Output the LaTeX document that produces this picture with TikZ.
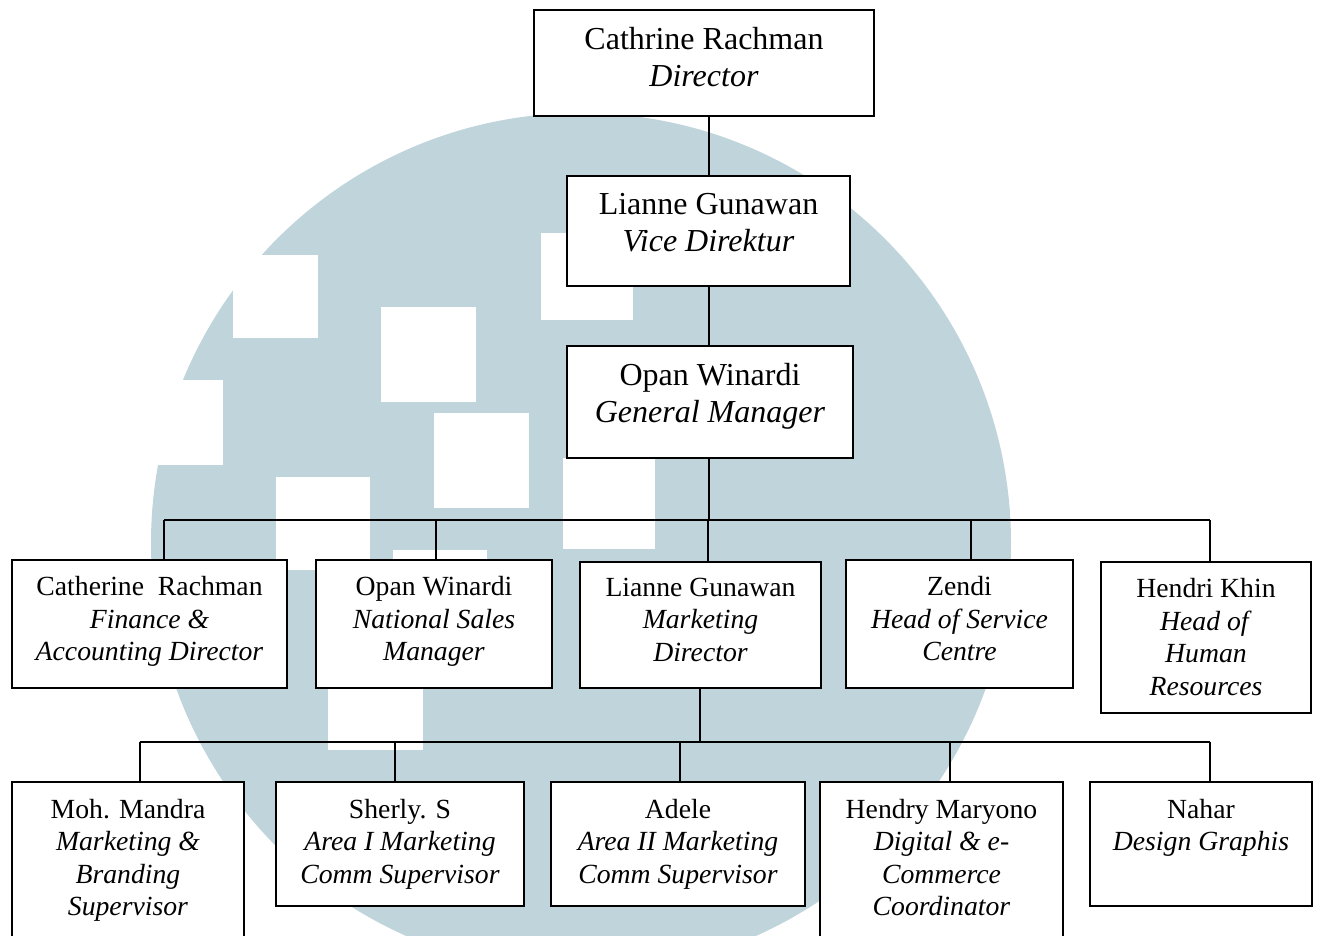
\documentclass[tikz,border=0pt]{standalone}
\usepackage{fontspec}
\setmainfont{Liberation Serif}
\definecolor{wmblue}{RGB}{192,212,219}
\tikzset{
  orgbox/.style={draw=black, fill=white, line width=1.5pt, inner sep=0pt},
  bigtxt/.style={align=center, inner sep=0pt, anchor=north, font=\fontsize{32}{37}\selectfont},
  smalltxt/.style={align=center, inner sep=0pt, anchor=north, font=\fontsize{27.7}{32.5}\selectfont},
  link/.style={draw=black, line width=1.3pt},
}
\begin{document}
\begin{tikzpicture}[x=1pt, y=-1pt]
\useasboundingbox (0,0) rectangle (1320,935);
\fill[white] (0,0) rectangle (1320,935);
% watermark
\begin{scope}
  \clip (0,0) rectangle (1320,935);
  \fill[wmblue] (581,543) circle[radius=430];
  \fill[white] (233,255) rectangle (318,338);
  \fill[white] (140,380) rectangle (223,465);
  \fill[white] (381,307) rectangle (476,402);
  \fill[white] (434,413) rectangle (529,508);
  \fill[white] (276,477) rectangle (370,570);
  \fill[white] (541,233) rectangle (633,320);
  \fill[white] (563,458) rectangle (655,549);
  \fill[white] (393,550) rectangle (487,640);
  \fill[white] (328,655) rectangle (423,750);
\end{scope}

% boxes
\node[orgbox, minimum width=340pt, minimum height=106pt] (d0) at (704,63) {};
\node[orgbox, minimum width=283pt, minimum height=110pt] (d1) at (708.5,231) {};
\node[orgbox, minimum width=286pt, minimum height=112pt] (d2) at (710,402) {};

\node[orgbox, minimum width=275pt, minimum height=128pt] (r1a) at (149.5,624) {};
\node[orgbox, minimum width=236pt, minimum height=128pt] (r1b) at (434,624) {};
\node[orgbox, minimum width=241pt, minimum height=126pt] (r1c) at (700.5,625) {};
\node[orgbox, minimum width=227pt, minimum height=128pt] (r1d) at (959.5,624) {};
\node[orgbox, minimum width=210pt, minimum height=151pt] (r1e) at (1206,637.5) {};

\node[orgbox, minimum width=232pt, minimum height=163pt] (r2a) at (128,863.5) {};
\node[orgbox, minimum width=248pt, minimum height=124pt] (r2b) at (400,844) {};
\node[orgbox, minimum width=254pt, minimum height=124pt] (r2c) at (678,844) {};
\node[orgbox, minimum width=243pt, minimum height=163pt] (r2d) at (941.5,863.5) {};
\node[orgbox, minimum width=222pt, minimum height=124pt] (r2e) at (1201,844) {};

% texts
\node[bigtxt] (t0) at ([yshift=-14pt]d0.north) {\strut Cathrine Rachman\\ \textit{Director}};
\node[bigtxt] (t1) at ([yshift=-13pt]d1.north) {\strut Lianne Gunawan\\ \textit{Vice Direktur}};
\node[bigtxt] (t2) at ([yshift=-14pt]d2.north) {\strut Opan Winardi\\ \textit{General Manager}};

\node[smalltxt] (t1a) at ([yshift=-13.5pt]r1a.north) {\strut Catherine\ \ Rachman\\ \textit{Finance \&}\\ \textit{Accounting Director}};
\node[smalltxt] (t1b) at ([yshift=-13.5pt]r1b.north) {\strut Opan Winardi\\ \textit{National Sales}\\ \textit{Manager}};
\node[smalltxt] (t1c) at ([yshift=-12pt]r1c.north) {\strut Lianne Gunawan\\ \textit{Marketing}\\ \textit{Director}};
\node[smalltxt] (t1d) at ([yshift=-13.5pt]r1d.north) {\strut Zendi\\ \textit{Head of Service}\\ \textit{Centre}};
\node[smalltxt] (t1e) at ([yshift=-13.5pt]r1e.north) {\strut Hendri Khin\\ \textit{Head of}\\ \textit{Human}\\ \textit{Resources}};

\node[smalltxt] (t2a) at ([yshift=-14pt]r2a.north) {\strut Moh. Mandra\\ \textit{Marketing \&}\\ \textit{Branding}\\ \textit{Supervisor}};
\node[smalltxt] (t2b) at ([yshift=-14pt]r2b.north) {\strut Sherly. S\\ \textit{Area I Marketing}\\ \textit{Comm Supervisor}};
\node[smalltxt] (t2c) at ([yshift=-14pt]r2c.north) {\strut Adele\\ \textit{Area II Marketing}\\ \textit{Comm Supervisor}};
\node[smalltxt] (t2d) at ([yshift=-14pt]r2d.north) {\strut Hendry Maryono\\ \textit{Digital \& e-}\\ \textit{Commerce}\\ \textit{Coordinator}};
\node[smalltxt] (t2e) at ([yshift=-14pt]r2e.north) {\strut Nahar\\ \textit{Design Graphis}};

% connectors
\coordinate (trunk) at (709,520);
\draw[link] (d0.south -| trunk) -- (d1.north -| trunk);
\draw[link] (d1.south -| trunk) -- (d2.north -| trunk);
\draw[link] (d2.south -| trunk) -- (trunk);

\coordinate (u1) at (164,520);
\coordinate (u2) at (436,520);
\coordinate (u3) at (708,520);
\coordinate (u4) at (971,520);
\coordinate (u5) at (1210,520);
\draw[link] (u1) -- (u5);
\draw[link] (u1) -- (u1 |- r1a.north);
\draw[link] (u2) -- (u2 |- r1b.north);
\draw[link] (u3) -- (u3 |- r1c.north);
\draw[link] (u4) -- (u4 |- r1d.north);
\draw[link] (u5) -- (u5 |- r1e.north);

\coordinate (v0) at (700,742);
\draw[link] (r1c.south -| v0) -- (v0);
\coordinate (v1) at (140,742);
\coordinate (v2) at (395,742);
\coordinate (v3) at (680,742);
\coordinate (v4) at (950,742);
\coordinate (v5) at (1210,742);
\draw[link] (v1) -- (v5);
\draw[link] (v1) -- (v1 |- r2a.north);
\draw[link] (v2) -- (v2 |- r2b.north);
\draw[link] (v3) -- (v3 |- r2c.north);
\draw[link] (v4) -- (v4 |- r2d.north);
\draw[link] (v5) -- (v5 |- r2e.north);
\end{tikzpicture}
\end{document}
